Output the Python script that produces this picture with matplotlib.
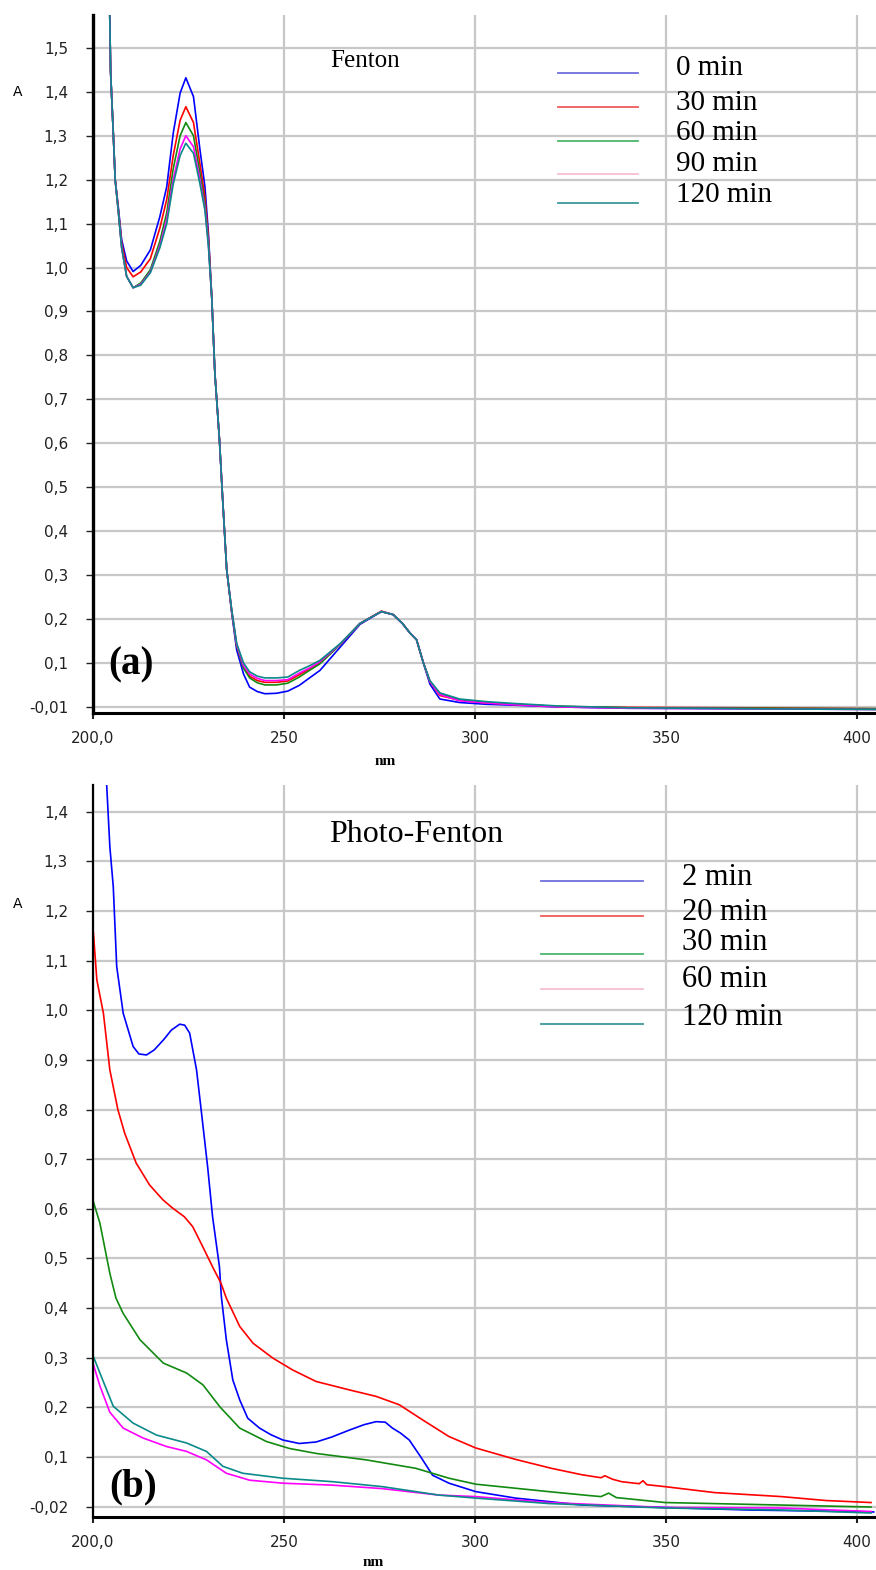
import matplotlib
matplotlib.use("Agg")
import matplotlib.pyplot as plt

# ---- (a) Fenton : shared wavelength grid (nm) ----
wl_a = [204.3, 204.6, 205.3, 205.8, 206.6, 207.5, 208.8, 210.5, 212.5, 215, 217.5, 219.3,
        221, 222.8, 224.3, 226.3, 228, 229.3, 230.2, 231.1, 231.9, 233.1, 233.9, 235.0,
        236.3, 237.6, 239.4, 241, 243, 245, 248, 251, 254, 257, 259.4, 264.7, 269.9,
        275.5, 278.6, 281, 283, 284.7, 286.5, 288.2, 290.8, 296, 303, 310, 322, 340, 370, 405]
fen_0 = [1.62, 1.446, 1.306, 1.2, 1.139, 1.063, 1.015, 0.991, 1.005, 1.04, 1.116, 1.184,
         1.306, 1.397, 1.432, 1.389, 1.268, 1.184, 1.079, 0.93, 0.76, 0.608, 0.479, 0.312,
         0.215, 0.13, 0.075, 0.045, 0.035, 0.030, 0.031, 0.036, 0.049, 0.068, 0.083, 0.136,
         0.188, 0.217, 0.21, 0.19, 0.168, 0.153, 0.10, 0.052, 0.018, 0.01, 0.006, 0.004,
         0.0, -0.003, -0.004, -0.005]
fen_30 = [1.62, 1.446, 1.306, 1.2, 1.135, 1.055, 1.0, 0.979, 0.99, 1.02, 1.09, 1.155,
          1.255, 1.335, 1.366, 1.33, 1.235, 1.16, 1.07, 0.93, 0.76, 0.608, 0.479, 0.312,
          0.218, 0.14, 0.09, 0.07, 0.06, 0.056, 0.056, 0.059, 0.073, 0.088, 0.10, 0.142,
          0.19, 0.218, 0.21, 0.19, 0.168, 0.153, 0.10, 0.058, 0.026, 0.015, 0.009, 0.006,
          0.001, -0.001, -0.002, -0.004]
fen_60 = [1.62, 1.446, 1.306, 1.2, 1.13, 1.045, 0.98, 0.954, 0.965, 0.995, 1.06, 1.125,
          1.225, 1.30, 1.330, 1.30, 1.215, 1.145, 1.06, 0.93, 0.76, 0.608, 0.479, 0.312,
          0.218, 0.14, 0.088, 0.066, 0.055, 0.050, 0.050, 0.054, 0.068, 0.085, 0.098, 0.142,
          0.19, 0.217, 0.21, 0.19, 0.168, 0.153, 0.10, 0.058, 0.03, 0.016, 0.01, 0.006,
          0.001, -0.002, -0.003, -0.004]
fen_90 = [1.62, 1.446, 1.306, 1.2, 1.13, 1.045, 0.98, 0.954, 0.962, 0.99, 1.05, 1.11,
          1.20, 1.27, 1.300, 1.275, 1.20, 1.135, 1.055, 0.93, 0.76, 0.608, 0.479, 0.312,
          0.22, 0.142, 0.094, 0.075, 0.065, 0.060, 0.060, 0.062, 0.077, 0.09, 0.103, 0.143,
          0.19, 0.217, 0.21, 0.19, 0.168, 0.153, 0.10, 0.058, 0.028, 0.014, 0.009, 0.005,
          0.0, -0.003, -0.004, -0.006]
fen_120 = [1.62, 1.446, 1.306, 1.2, 1.13, 1.045, 0.98, 0.954, 0.96, 0.988, 1.045, 1.10,
           1.19, 1.255, 1.283, 1.26, 1.19, 1.13, 1.05, 0.93, 0.76, 0.608, 0.479, 0.312,
           0.222, 0.145, 0.10, 0.08, 0.07, 0.066, 0.066, 0.068, 0.083, 0.095, 0.106, 0.144,
           0.19, 0.217, 0.21, 0.19, 0.168, 0.153, 0.10, 0.06, 0.032, 0.018, 0.012, 0.008,
           0.002, -0.002, -0.004, -0.006]
fen_labels = ["0 min", "30 min", "60 min", "90 min", "120 min"]

# ---- (b) Photo-Fenton : one wavelength list per curve ----
wl_2 = [203.2, 203.6, 204.4, 205.3, 206.2, 207.9, 210.5, 212, 214, 216, 218.4, 220.5, 222.7,
        224, 225.3, 227.1, 228.3, 230, 231.3, 233.1, 233.6, 234.9, 236.6, 238.4, 240.5,
        243.6, 246.5, 249.7, 254, 258.4, 262.5, 267.1, 271, 274.1, 276.5, 278.4, 280.5,
        282.8, 285.8, 288.9, 293.2, 300.2, 310.6, 328, 349.8, 371.5, 397.6, 404.4]
pf_2 = [1.52, 1.45, 1.33, 1.249, 1.088, 0.994, 0.927, 0.912, 0.91, 0.92, 0.94, 0.96, 0.972,
        0.97, 0.954, 0.88, 0.80, 0.685, 0.584, 0.483, 0.423, 0.336, 0.255, 0.215, 0.178,
        0.158, 0.145, 0.134, 0.127, 0.13, 0.14, 0.154, 0.165, 0.171, 0.17, 0.158, 0.148,
        0.134, 0.10, 0.063, 0.047, 0.03, 0.017, 0.003, -0.002, -0.007, -0.01, -0.011]
wl_20 = [200.1, 201, 202.7, 204.4, 206.5, 208.3, 211.3, 214.8, 218.3, 220.9, 223.9, 226.1,
         228.7, 231.3, 233.5, 234.9, 238.4, 241.9, 247.1, 252.3, 258.4, 267.1, 274.1, 280.2,
         286.2, 293.2, 300.2, 310.6, 320, 328, 333, 334, 336, 338.4, 343, 344, 345, 349.8,
         362.8, 380.2, 392, 403.7]
pf_20 = [1.156, 1.061, 0.995, 0.88, 0.80, 0.752, 0.692, 0.648, 0.618, 0.601, 0.584, 0.564,
         0.524, 0.483, 0.45, 0.42, 0.363, 0.329, 0.299, 0.275, 0.252, 0.235, 0.222, 0.205,
         0.175, 0.141, 0.118, 0.095, 0.077, 0.064, 0.058, 0.062, 0.055, 0.05, 0.046, 0.052,
         0.044, 0.04, 0.028, 0.02, 0.012, 0.008]
wl_30 = [200.1, 201.8, 204.4, 206, 207.9, 212.3, 218.4, 224.5, 228.8, 233.2, 238.4, 245.4,
         251.4, 258.4, 271.5, 284.5, 293.2, 300.2, 319.3, 330, 333, 335, 337, 349.8, 380, 403.7]
pf_30 = [0.614, 0.571, 0.47, 0.42, 0.389, 0.336, 0.289, 0.269, 0.245, 0.201, 0.158, 0.131,
         0.117, 0.107, 0.094, 0.077, 0.057, 0.045, 0.03, 0.022, 0.02, 0.027, 0.018, 0.008,
         0.003, -0.001]
wl_60 = [200.1, 201.8, 204.4, 207.9, 213.1, 219.2, 224.5, 229.7, 234.9, 241, 249.7, 262.8,
         275.8, 290.6, 300.2, 319.3, 349.8, 380, 403.7]
pf_60 = [0.286, 0.243, 0.19, 0.158, 0.138, 0.121, 0.111, 0.094, 0.067, 0.053, 0.047, 0.043,
         0.036, 0.023, 0.02, 0.008, -0.002, -0.003, -0.01]
wl_120 = [200.1, 201.8, 205.3, 210.5, 216.6, 224.5, 229.7, 234, 239.2, 249.7, 262.8, 275.8,
          290.6, 300.2, 319.3, 349.8, 380, 403.7]
pf_120 = [0.302, 0.269, 0.202, 0.168, 0.144, 0.128, 0.111, 0.081, 0.067, 0.057, 0.05, 0.04,
          0.023, 0.017, 0.006, -0.003, -0.007, -0.013]
pf_labels = ["2 min", "20 min", "30 min", "60 min", "120 min"]

line_colors = ["#0000ff", "#ff0000", "#128a12", "#ff00ff", "#0a8a8a"]
legend_colors = ["#6f6fdc", "#f05a5a", "#4cb86e", "#f7bfd0", "#3a9a9a"]

x_ticks = [200, 250, 300, 350, 400]
x_ticklabels = ["200,0", "250", "300", "350", "400"]
ticks_a = [0.0, 0.1, 0.2, 0.3, 0.4, 0.5, 0.6, 0.7, 0.8, 0.9, 1.0, 1.1, 1.2, 1.3, 1.4, 1.5]
labels_a = ["-0,01", "0,1", "0,2", "0,3", "0,4", "0,5", "0,6", "0,7", "0,8", "0,9",
            "1,0", "1,1", "1,2", "1,3", "1,4", "1,5"]
ticks_b = ticks_a[:15]
labels_b = ["-0,02"] + labels_a[1:15]

serif = "Liberation Serif"

fig = plt.figure(figsize=(8.76, 15.70), dpi=100)
ax1 = fig.add_axes([0.1062, 0.5459, 0.8938, 0.4446])
ax2 = fig.add_axes([0.1062, 0.0338, 0.8938, 0.4662])


def style_axes(ax, ylim, yticks, ylabels, spine_w):
    ax.set_xlim(200, 405)
    ax.set_ylim(*ylim)
    ax.set_xticks(x_ticks)
    ax.set_xticklabels(x_ticklabels)
    ax.set_yticks(yticks)
    ax.set_yticklabels(ylabels)
    ax.grid(True, color="#c8c8c8", lw=1.6)
    ax.set_axisbelow(True)
    for s in ["top", "right"]:
        ax.spines[s].set_visible(False)
    ax.spines["left"].set_linewidth(spine_w)
    ax.spines["bottom"].set_linewidth(2.2)
    ax.tick_params(axis="y", length=5, width=1, pad=13, labelsize=11, colors="#222222")
    ax.tick_params(axis="x", length=4, width=1.5, pad=9, labelsize=11, colors="#222222")
    ax.set_xlabel("nm", family=serif, fontsize=11, fontweight="bold")
    ax.set_ylabel("A", rotation=0, fontsize=10)


# ---- panel (a) ----
fen_series = [fen_0, fen_30, fen_60, fen_90, fen_120]
for vals, c in zip(fen_series, line_colors):
    ax1.plot(wl_a, vals, color=c, lw=1.2)
style_axes(ax1, (-0.0137, 1.575), ticks_a, labels_a, 2.4)
ax1.xaxis.set_label_coords(0.373, -0.060)
ax1.yaxis.set_label_coords(-0.096, 0.88)
ax1.text(0.347, 0.934, "Fenton", transform=ax1.transAxes, family=serif, fontsize=18,
         ha="center", va="center")
ax1.text(0.0485, 0.069, "(a)", transform=ax1.transAxes, family=serif, fontsize=28,
         fontweight="bold", ha="center", va="center")
leg_ya = [0.917, 0.868, 0.819, 0.772, 0.731]
txt_ya = [0.924, 0.874, 0.831, 0.787, 0.742]
for lab, c, ly, ty in zip(fen_labels, legend_colors, leg_ya, txt_ya):
    ax1.plot([0.594, 0.696], [ly, ly], color=c, lw=1.3, transform=ax1.transAxes)
    ax1.text(0.745, ty, lab, transform=ax1.transAxes, family=serif, fontsize=21,
             ha="left", va="center")

# ---- panel (b) ----
pf_series = [(wl_2, pf_2), (wl_20, pf_20), (wl_30, pf_30), (wl_60, pf_60), (wl_120, pf_120)]
for (w, vals), c in zip(pf_series, line_colors):
    ax2.plot(w, vals, color=c, lw=1.2)
style_axes(ax2, (-0.021, 1.454), ticks_b, labels_b, 1.6)
ax2.xaxis.set_label_coords(0.358, -0.053)
ax2.yaxis.set_label_coords(-0.096, 0.828)
ax2.text(0.4125, 0.932, "Photo-Fenton", transform=ax2.transAxes, family=serif, fontsize=23,
         ha="center", va="center")
ax2.text(0.051, 0.041, "(b)", transform=ax2.transAxes, family=serif, fontsize=28,
         fontweight="bold", ha="center", va="center")
leg_yb = [0.869, 0.821, 0.769, 0.721, 0.673]
txt_yb = [0.874, 0.826, 0.785, 0.734, 0.683]
for lab, c, ly, ty in zip(pf_labels, legend_colors, leg_yb, txt_yb):
    ax2.plot([0.572, 0.702], [ly, ly], color=c, lw=1.3, transform=ax2.transAxes)
    ax2.text(0.752, ty, lab, transform=ax2.transAxes, family=serif, fontsize=22,
             ha="left", va="center")

fig.savefig("out.png", dpi=100)
